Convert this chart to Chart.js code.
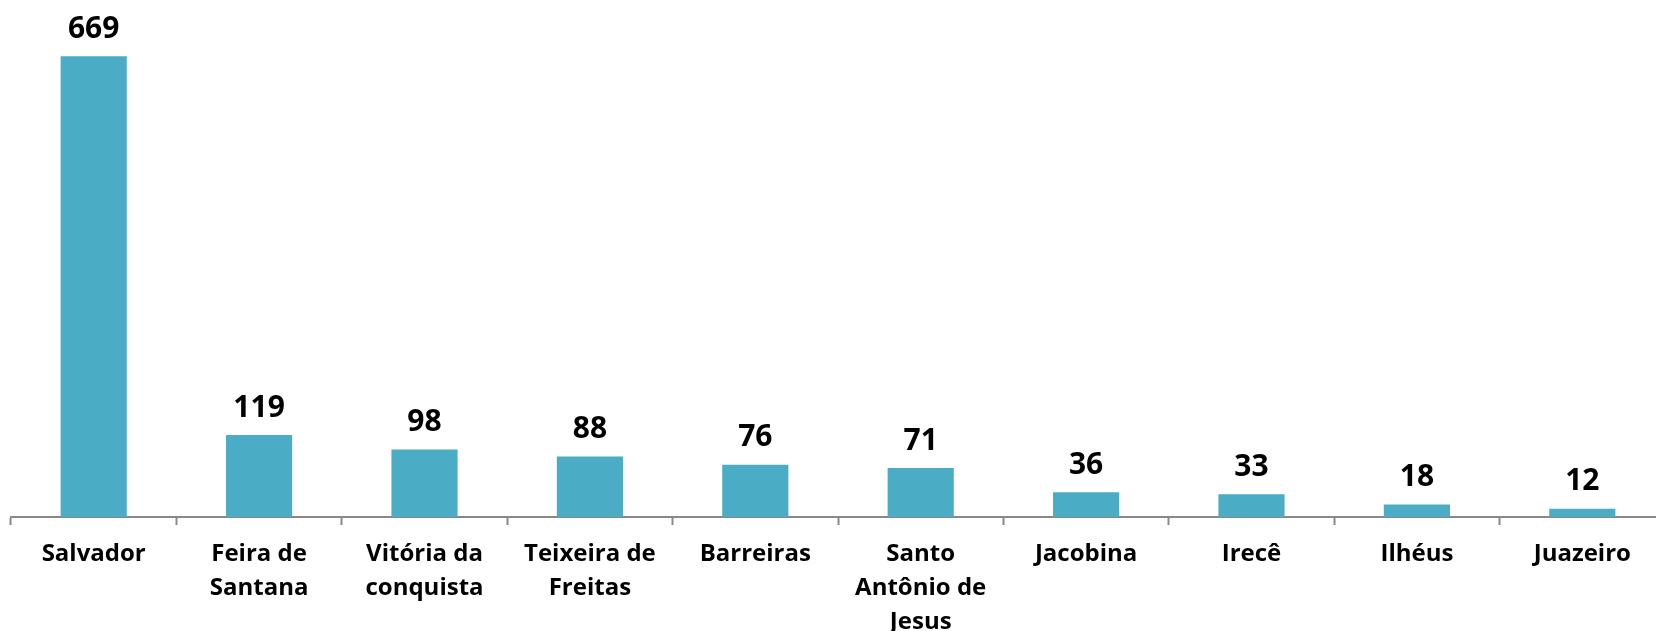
<!DOCTYPE html>
<html>
<head>
<meta charset="utf-8">
<script src="https://cdn.jsdelivr.net/npm/chart.js@4"></script>
<style>
  html, body { margin: 0; padding: 0; background: #fff; overflow: hidden; width: 1656px; height: 631px; }
  #wrap { position: absolute; left: 0; top: 0; }
</style>
</head>
<body>
<div id="wrap"><canvas id="c" width="1670" height="653"></canvas></div>
<script>
const categories = [
  'Salvador',
  ['Feira de', 'Santana'],
  ['Vitória da', 'conquista'],
  ['Teixeira de', 'Freitas'],
  'Barreiras',
  ['Santo', 'Antônio de', 'Jesus'],
  'Jacobina',
  'Irecê',
  'Ilhéus',
  'Juazeiro'
];
const values = [669, 119, 98, 88, 76, 71, 36, 33, 18, 12];

const valueLabels = {
  id: 'valueLabels',
  afterDatasetsDraw(chart) {
    const ctx = chart.ctx;
    const meta = chart.getDatasetMeta(0);
    ctx.save();
    ctx.font = 'bold 30px "Open Sans"';
    ctx.fillStyle = '#000';
    ctx.textAlign = 'center';
    ctx.textBaseline = 'middle';
    meta.data.forEach((bar, i) => {
      ctx.fillText(String(values[i]), bar.x, bar.y - 27);
    });
    ctx.restore();
  }
};

new Chart(document.getElementById('c'), {
  type: 'bar',
  data: {
    labels: categories,
    datasets: [{
      data: values,
      backgroundColor: '#4BACC6',
      borderWidth: 0,
      categoryPercentage: 1.0,
      barPercentage: 0.4
    }]
  },
  options: {
    responsive: false,
    animation: false,
    devicePixelRatio: 1,
    layout: { padding: { left: 11, right: 5, top: 35, bottom: 2 } },
    plugins: { legend: { display: false }, tooltip: { enabled: false } },
    scales: {
      x: {
        offset: true,
        grid: {
          display: true,
          offset: true,
          drawOnChartArea: false,
          drawTicks: true,
          tickLength: 8,
          tickWidth: 2,
          tickColor: '#888888'
        },
        border: { display: true, color: '#888888', width: 2 },
        ticks: {
          color: '#000',
          padding: 12,
          maxRotation: 0,
          autoSkip: false,
          font: { family: 'Open Sans', weight: 'bold', size: 24, lineHeight: 1.4167 }
        }
      },
      y: {
        display: false,
        min: 0,
        max: 700
      }
    }
  },
  plugins: [valueLabels]
});
</script>
</body>
</html>
